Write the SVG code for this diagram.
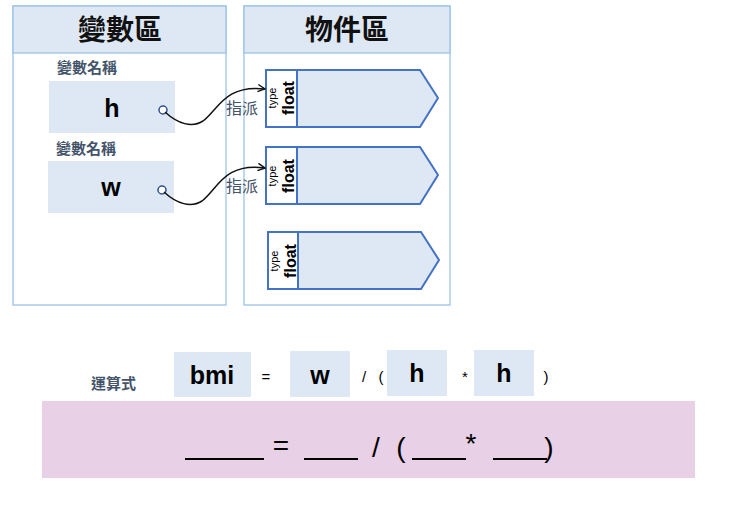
<svg xmlns="http://www.w3.org/2000/svg" width="741" height="522" viewBox="0 0 741 522">
<style>
.panel{fill:#fff;stroke:#9dc3e6;stroke-width:1.3}
.hdr{fill:#dde8f4;stroke:#9dc3e6;stroke-width:1.3}
.ht{font-family:"Noto Sans CJK TC","Noto Sans CJK SC",sans-serif;font-weight:bold;font-size:28px;fill:#111;text-anchor:middle}
.lbl{font-family:"Noto Sans CJK TC","Noto Sans CJK SC",sans-serif;font-size:15px;fill:#44546a;font-weight:bold}
.box{fill:#dde8f4}
.var{font-family:"Liberation Sans",Arial,sans-serif;font-weight:bold;font-size:25px;fill:#000;text-anchor:middle}
.obj{fill:#dde8f4;stroke:#4472c4;stroke-width:2}
.tag{fill:#fff;stroke:#4472c4;stroke-width:2}
.type{font-family:"Liberation Sans",Arial,sans-serif;font-size:11px;fill:#000;text-anchor:middle}
.flt{font-family:"Liberation Sans",Arial,sans-serif;font-weight:bold;font-size:16px;fill:#000;text-anchor:middle}
.conn{fill:none;stroke:#111;stroke-width:1.5}
.op{font-family:"Liberation Sans",Arial,sans-serif;font-size:15px;fill:#000;text-anchor:middle}
.eq{font-family:"Liberation Sans",Arial,sans-serif;font-size:28px;fill:#000;text-anchor:middle}
.ul{stroke:#000;stroke-width:2}
</style>
<defs>
<marker id="arr" viewBox="0 0 10 10" refX="9" refY="5" markerWidth="9" markerHeight="9" orient="auto" markerUnits="userSpaceOnUse">
<path d="M1,1 L9,5 L1,9" fill="none" stroke="#111" stroke-width="1.5"/>
</marker>
</defs>
<g id="var-area">
<rect class="panel" x="13" y="6" width="213" height="299"/>
<rect class="hdr" x="13" y="6" width="213" height="47"/>
<text class="ht" x="120" y="40">變數區</text>
</g>
<g id="obj-area">
<rect class="panel" x="244" y="6" width="206" height="299"/>
<rect class="hdr" x="244" y="6" width="206" height="47"/>
<text class="ht" x="347" y="40">物件區</text>
</g>
<g id="var-h">
<text class="lbl" x="57" y="73">變數名稱</text>
<rect class="box" x="49" y="81" width="126" height="52"/>
<text class="var" x="112" y="117">h</text>
<circle cx="163" cy="110" r="4" fill="#fff" stroke="#2f4f8f" stroke-width="1.5"/>
</g>
<g id="var-w">
<text class="lbl" x="56" y="154">變數名稱</text>
<rect class="box" x="48" y="161" width="126" height="52"/>
<text class="var" x="111" y="196">w</text>
<circle cx="162" cy="190" r="4" fill="#fff" stroke="#2f4f8f" stroke-width="1.5"/>
</g>
<g id="obj1">
<polygon class="obj" points="266,70 420,70 438,98 420,127 266,127"/>
<rect class="tag" x="266" y="70" width="31" height="57"/>
<text class="type" transform="translate(276,98) rotate(-90)">type</text>
<text class="flt" transform="translate(294,98) rotate(-90)">float</text>
</g>
<g id="obj2">
<polygon class="obj" points="266,147 420,147 438,175 420,204 266,204"/>
<rect class="tag" x="266" y="147" width="31" height="57"/>
<text class="type" transform="translate(276,176) rotate(-90)">type</text>
<text class="flt" transform="translate(294,176) rotate(-90)">float</text>
</g>
<g id="obj3">
<polygon class="obj" points="268,232 421,232 439,260 421,289 268,289"/>
<rect class="tag" x="268" y="232" width="30" height="57"/>
<text class="type" transform="translate(278,261) rotate(-90)">type</text>
<text class="flt" transform="translate(296,261) rotate(-90)">float</text>
</g>
<g id="connectors">
<path class="conn" marker-end="url(#arr)" d="M165,112 C178,124 192,128 203,121 C218,110 225,84 265,89"/>
<path class="conn" marker-end="url(#arr)" d="M164,192 C177,204 191,208 202,201 C217,190 224,162 265,168"/>
<text class="lbl" x="226" y="114" style="font-weight:normal;font-size:16px">指派</text>
<text class="lbl" x="226" y="192" style="font-weight:normal;font-size:16px">指派</text>
</g>
<g id="formula">
<text class="lbl" x="91" y="389" style="font-size:15px">運算式</text>
<rect class="box" x="174" y="352" width="77" height="45"/>
<text class="var" x="212" y="384">bmi</text>
<text class="op" x="266" y="382">=</text>
<rect class="box" x="290" y="351" width="60" height="46"/>
<text class="var" x="320" y="384">w</text>
<text class="op" x="364" y="382">/</text>
<text class="op" x="381" y="382">(</text>
<rect class="box" x="387" y="350" width="60" height="46"/>
<text class="var" x="417" y="382">h</text>
<text class="op" x="465" y="382">*</text>
<rect class="box" x="474" y="350" width="60" height="46"/>
<text class="var" x="504" y="382">h</text>
<text class="op" x="546" y="382">)</text>
</g>
<g id="answer">
<rect x="42" y="401" width="653" height="77" fill="#e8d0e6"/>
<line class="ul" x1="185" y1="459" x2="264" y2="459"/>
<text class="eq" x="281" y="455">=</text>
<line class="ul" x1="304" y1="459" x2="358" y2="459"/>
<text class="eq" x="376" y="457">/</text>
<text class="eq" x="401" y="457">(</text>
<line class="ul" x1="412" y1="459" x2="466" y2="459"/>
<text class="eq" x="471" y="453">*</text>
<line class="ul" x1="493" y1="459" x2="547" y2="459"/>
<text class="eq" x="549" y="457">)</text>
</g>
</svg>
